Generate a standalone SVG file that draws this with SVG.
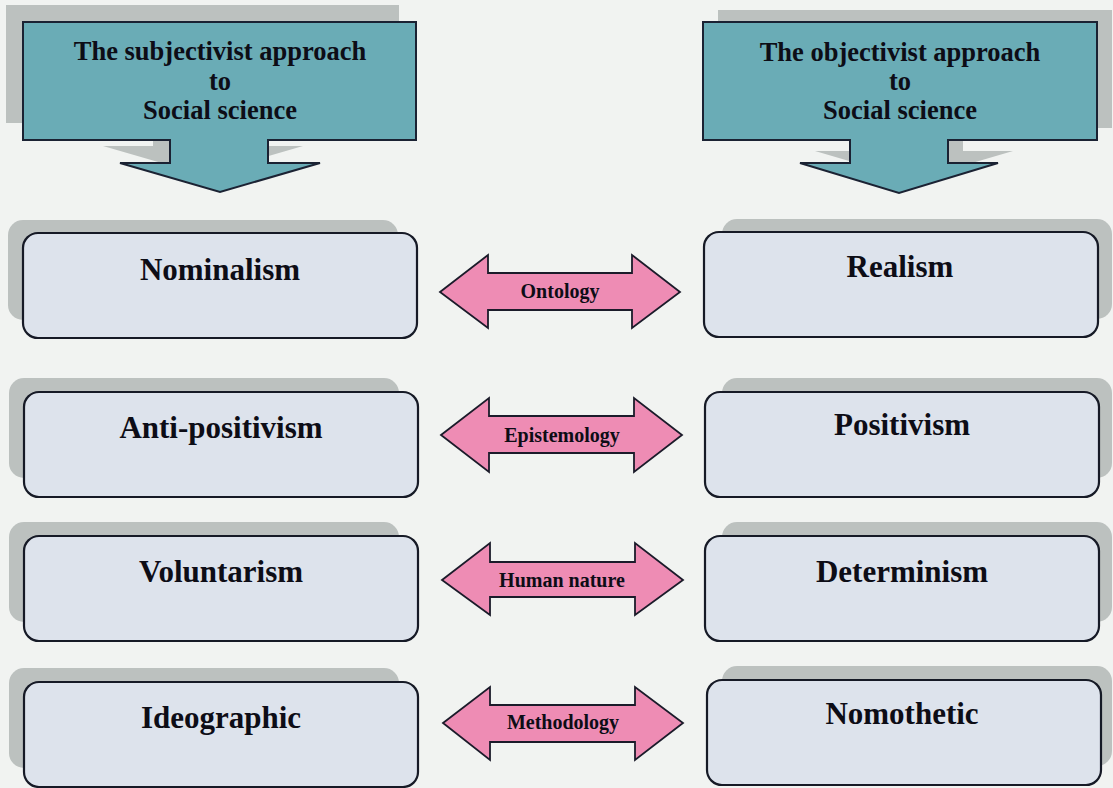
<svg xmlns="http://www.w3.org/2000/svg" width="1113" height="788" viewBox="0 0 1113 788">
<style>
.bg{fill:#f1f3f1}
.hdr{fill:#6aacb6;stroke:#1b2233;stroke-width:2}
.sh{fill:#bcc1bf}
.box{fill:#dde3ec;stroke:#161a26;stroke-width:2.2}
.dbl{fill:#ee8cb4;stroke:#1b1b2a;stroke-width:1.8}
text{font-family:"Liberation Serif","Times New Roman",serif;font-weight:bold;fill:#0d0d16;text-anchor:middle}
.ht{font-size:26.5px}
.bt{font-size:31px}
.at{font-size:20px}
</style>
<defs>
<rect id="rb" width="394" height="105" rx="15" ry="15"/>
<rect id="rs" width="390" height="100" rx="15" ry="15"/>
</defs>
<rect class="bg" x="0" y="0" width="1113" height="788"/>

<g id="header-left">
<path class="sh" d="M6,5 H399 V123 H251 V146 H303 L203,175 L103,146 H153 V123 H6 Z"/>
<path class="hdr" d="M23,22 H416 V140 H268 V163 H320 L220,192 L120,163 H170 V140 H23 Z"/>
<text class="ht" x="220" y="60">The subjectivist approach</text>
<text class="ht" x="220" y="90">to</text>
<text class="ht" x="220" y="119">Social science</text>
</g>

<g id="header-right">
<path class="sh" d="M718,10 H1112 V128 H963 V151 H1013 L914,180 L815,151 H865 V128 H718 Z"/>
<path class="hdr" d="M703,22 H1097 V140 H948 V163 H998 L899,193 L800,163 H850 V140 H703 Z"/>
<text class="ht" x="900" y="61">The objectivist approach</text>
<text class="ht" x="900" y="90">to</text>
<text class="ht" x="900" y="119">Social science</text>
</g>

<g id="nominalism">
<use href="#rs" class="sh" x="8" y="220"/>
<use href="#rb" class="box" x="23" y="233"/>
<text class="bt" x="220" y="280">Nominalism</text>
</g>
<g id="anti-positivism">
<use href="#rs" class="sh" x="9" y="378"/>
<use href="#rb" class="box" x="24" y="392"/>
<text class="bt" x="221" y="438">Anti-positivism</text>
</g>
<g id="voluntarism">
<use href="#rs" class="sh" x="9" y="522"/>
<use href="#rb" class="box" x="24" y="536"/>
<text class="bt" x="221" y="582">Voluntarism</text>
</g>
<g id="ideographic">
<use href="#rs" class="sh" x="9" y="668"/>
<use href="#rb" class="box" x="24" y="682"/>
<text class="bt" x="221" y="728">Ideographic</text>
</g>

<g id="realism">
<use href="#rs" class="sh" x="722" y="219"/>
<use href="#rb" class="box" x="704" y="232"/>
<text class="bt" x="900" y="277">Realism</text>
</g>
<g id="positivism">
<use href="#rs" class="sh" x="722" y="378"/>
<use href="#rb" class="box" x="705" y="392"/>
<text class="bt" x="902" y="435">Positivism</text>
</g>
<g id="determinism">
<use href="#rs" class="sh" x="722" y="522"/>
<use href="#rb" class="box" x="705" y="536"/>
<text class="bt" x="902" y="582">Determinism</text>
</g>
<g id="nomothetic">
<use href="#rs" class="sh" x="722" y="666"/>
<use href="#rb" class="box" x="707" y="680"/>
<text class="bt" x="902" y="724">Nomothetic</text>
</g>

<g id="connectors">
<g id="ontology">
<path class="dbl" d="M440,292 L488,255 V273 H632 V255 L680,292 L632,328 V310 H488 V328 Z"/>
<text class="at" x="560" y="298">Ontology</text>
</g>
<g id="epistemology">
<path class="dbl" d="M441,435 L489,398 V416 H634 V398 L682,435 L634,472 V453 H489 V472 Z"/>
<text class="at" x="562" y="442">Epistemology</text>
</g>
<g id="human-nature">
<path class="dbl" d="M442,580 L490,543 V562 H635 V543 L683,580 L635,615 V597 H490 V615 Z"/>
<text class="at" x="562" y="587">Human nature</text>
</g>
<g id="methodology">
<path class="dbl" d="M443,723 L490,687 V705 H635 V687 L683,723 L635,760 V742 H490 V760 Z"/>
<text class="at" x="563" y="729">Methodology</text>
</g>
</g>
</svg>
